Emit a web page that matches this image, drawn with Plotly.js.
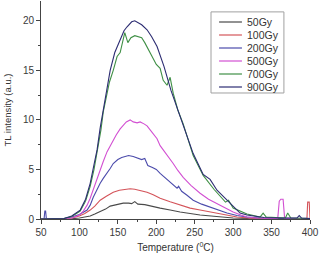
<!DOCTYPE html>
<html>
<head>
<meta charset="utf-8">
<script src="https://cdn.plot.ly/plotly-3.0.1.min.js"></script>
<style>html,body{margin:0;padding:0;background:#fff;}#chart{width:319px;height:253px;}</style>
</head>
<body>
<div id="chart"></div>
<script>
// ---- data ----
const seriesNames = ["50Gy", "100Gy", "200Gy", "500Gy", "700Gy", "900Gy"];
const seriesColors = ["#4a4a4a", "#d4545a", "#4b4bab", "#d24fd2", "#3f8f45", "#2c2c72"];

const x50 = [50,70,90,100,114,120,127,134,140,148,157,164,168,172,176,185,192,205,218,231,257,283,300,320,400];
const y50 = [0,0,0.02,0.1,0.3,0.5,0.75,1.0,1.3,1.45,1.6,1.6,1.55,1.75,1.5,1.45,1.35,1.1,0.9,0.7,0.4,0.2,0.1,0.05,0];

const x100 = [50,70,90,100,107,114,120,127,135,144,152,160,166,172,180,188,196,205,218,231,244,257,270,283,295,305,320,340,396,397,399,400];
const y100 = [0,0,0.1,0.3,0.55,0.9,1.3,1.9,2.3,2.7,2.9,3.0,3.05,3.0,2.85,2.7,2.45,2.1,1.75,1.4,1.1,0.9,0.7,0.5,0.3,0.2,0.1,0.05,0.03,1.7,1.7,0];

const x200 = [50,54,55,56,57,70,80,90,100,110,114,118,122,127,131,136,140,144,150,155,160,164,170,175,181,185,189,195,200,205,212,218,224,227,229,233,240,248,259,270,281,292,305,318,335,400];
const y200 = [0,0,0.8,0.8,0,0,0.05,0.2,0.45,0.9,1.4,2.2,2.9,3.6,4.1,4.6,5.1,5.6,6.0,6.2,6.35,6.4,6.3,6.15,6.0,6.1,5.4,5.2,5.0,4.6,4.1,3.7,3.3,3.1,3.3,2.8,2.4,1.9,1.5,1.2,0.9,0.6,0.35,0.2,0.1,0.05];

const x500 = [50,70,90,100,105,110,114,118,122,127,131,136,140,144,148,153,157,161,166,170,175,179,184,188,192,196,201,205,213,222,228,235,245,257,268,280,290,300,310,318,330,350,358,360,362,365,367,400];
const y500 = [0,0,0.1,0.4,0.8,1.4,2.1,3.0,3.9,4.8,5.8,6.8,7.4,8.0,8.5,9.1,9.5,9.8,10.0,9.8,9.7,9.8,9.6,9.4,9.0,8.6,8.1,7.4,6.6,5.6,4.9,4.2,3.4,2.6,2.0,1.5,1.1,0.7,0.4,0.2,0.1,0.05,0.05,1.8,2.0,2.0,0.05,0];

const x700 = [50,70,80,90,101,108,114,119,124,128,131,136,139,144,149,153,156,159,163,167,172,177,181,185,192,200,205,209,214,218,222,228,235,248,261,275,290,294,300,318,335,339,343,352,368,371,375,400];
const y700 = [0,0,0.05,0.25,0.8,1.8,3.3,5.0,7.0,9.0,10.8,12.7,13.8,15.0,16.4,16.8,18.0,18.8,17.8,18.3,18.5,18.4,18.3,17.8,16.8,15.6,15.2,14.0,13.5,14.3,12.7,11.0,9.6,6.4,4.4,3.0,1.7,1.9,1.1,0.5,0.2,0.6,0.2,0.15,0.1,0.6,0.1,0.05];

const x900 = [50,70,80,90,101,108,114,119,123,127,131,135,140,146,153,158,162,168,172,176,181,188,194,201,210,219,228,237,248,261,270,279,292,309,318,340,360,383,386,389,400];
const y900 = [0,0,0.05,0.3,0.9,2.0,3.6,5.5,7.0,9.2,11.0,13.0,15.0,16.8,18.1,19.0,19.4,19.9,20.0,19.8,19.6,19.1,18.4,17.4,15.4,13.0,11.0,9.2,6.6,4.5,4.0,2.9,1.9,0.6,0.4,0.15,0.1,0.1,0.35,0.1,0.05];

const xTickVals = [50,100,150,200,250,300,350,400];
const yTickVals = [0,5,10,15,20];

// ---- build ----
const xs = [x50, x100, x200, x500, x700, x900];
const ys = [y50, y100, y200, y500, y700, y900];
const traces = seriesNames.map((n, i) => ({
  type: 'scatter', mode: 'lines', name: n, x: xs[i], y: ys[i],
  line: {color: seriesColors[i], width: 1.1}, showlegend: false, hoverinfo: 'skip'
}));

// manual compact legend (box, line samples, labels)
const shapes = [{
  type: 'rect', xref: 'paper', yref: 'paper',
  x0: 0.632, x1: 0.903, y0: 0.578, y1: 0.950,
  line: {color: '#a0a0a0', width: 1}, fillcolor: 'rgba(255,255,255,0)'
}];
const annotations = [];
seriesNames.forEach((n, i) => {
  const yp = (219 - (22 + 13 * i)) / 218;
  shapes.push({type: 'line', xref: 'paper', yref: 'paper', x0: 0.662, x1: 0.747, y0: yp, y1: yp,
    line: {color: seriesColors[i], width: 1.2}});
  annotations.push({xref: 'paper', yref: 'paper', x: 0.758, y: yp, xanchor: 'left', yanchor: 'middle',
    text: n, showarrow: false, font: {family: 'Liberation Sans, Arial, sans-serif', size: 10.5, color: '#333'}});
});

const font = {family: 'Liberation Sans, Arial, sans-serif', size: 10, color: '#3a3a3a'};
const layout = {
  width: 319, height: 253,
  margin: {l: 41, r: 9, t: 1, b: 34, pad: 0},
  paper_bgcolor: '#fff', plot_bgcolor: '#fff',
  font: font,
  showlegend: false,
  xaxis: {
    range: [50, 400], tickvals: xTickVals, ticks: 'outside', ticklen: 4, tickwidth: 1, tickcolor: '#444',
    minor: {dtick: 25, tick0: 50, ticks: 'outside', ticklen: 2, tickcolor: '#444'},
    showline: true, linecolor: '#444', linewidth: 1, showgrid: false, zeroline: false,
    tickfont: font,
    title: {text: 'Temperature (<sup>0</sup>C)', font: {family: 'Liberation Sans, Arial, sans-serif', size: 10, color: '#333'}, standoff: 9}
  },
  yaxis: {
    range: [0, 22], tickvals: yTickVals, ticks: 'outside', ticklen: 4, tickwidth: 1, tickcolor: '#444',
    minor: {dtick: 2.5, tick0: 0, ticks: 'outside', ticklen: 2, tickcolor: '#444'},
    showline: true, linecolor: '#444', linewidth: 1, showgrid: false, zeroline: false,
    tickfont: font,
    title: {text: 'TL intensity (a.u.)', font: {family: 'Liberation Sans, Arial, sans-serif', size: 9.5, color: '#333'}, standoff: 9}
  },
  shapes: shapes,
  annotations: annotations
};
Plotly.newPlot('chart', traces, layout, {displayModeBar: false, staticPlot: true});
</script>
</body>
</html>
